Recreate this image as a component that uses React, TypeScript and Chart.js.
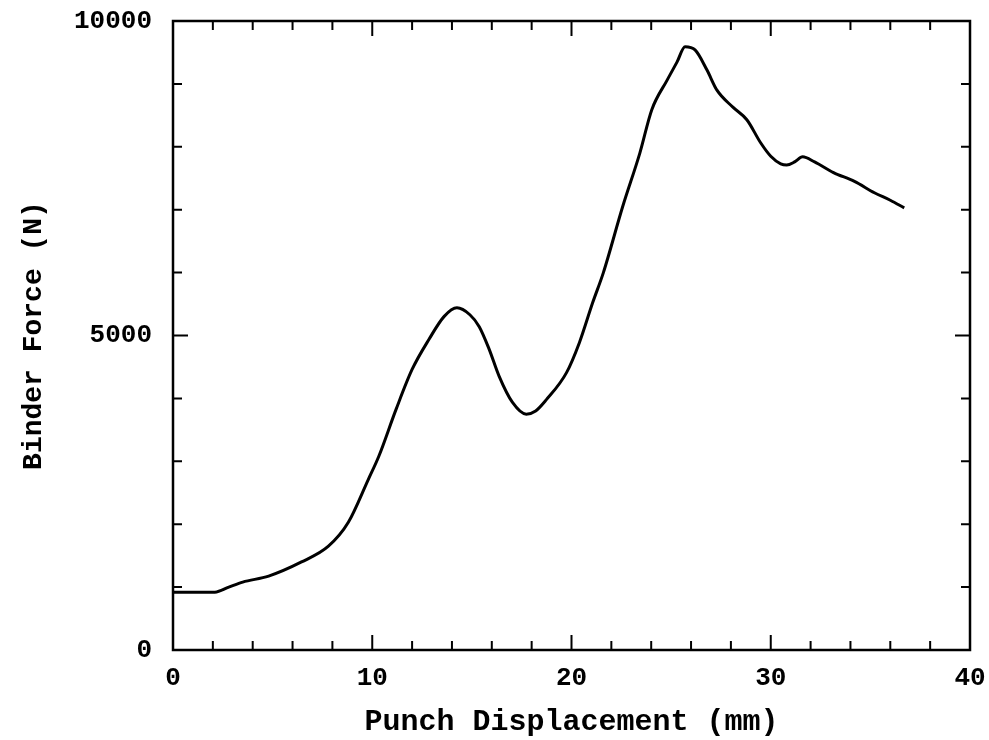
import React, { useEffect, useRef } from "react";
import { Chart, registerables } from "chart.js";

Chart.register(...registerables);

const displacement = [0, 2.1, 2.8, 3.5, 4.8, 6.45, 7.8, 8.8, 9.8, 10.33, 11.2, 12.0, 12.85, 13.6, 14.25, 14.9, 15.37, 15.87, 16.37, 17.03, 17.73, 18.2, 18.74, 19.75, 20.4, 21.06, 21.6, 22.57, 23.43, 24.03, 24.8, 25.3, 25.7, 26.2, 26.8, 27.3, 28.1, 28.8, 29.5, 30.0, 30.5, 30.8, 31.2, 31.6, 32.2, 33.15, 34.2, 35.2, 36.0, 36.7];
const binderForce = [920, 920, 1000, 1080, 1175, 1400, 1650, 2030, 2710, 3080, 3830, 4460, 4940, 5300, 5440, 5330, 5140, 4780, 4350, 3940, 3750, 3800, 3980, 4410, 4890, 5520, 6000, 7050, 7900, 8590, 9060, 9350, 9590, 9540, 9220, 8900, 8630, 8430, 8060, 7850, 7730, 7710, 7760, 7840, 7760, 7590, 7450, 7270, 7150, 7030];

const xTitle = "Punch Displacement (mm)";
const yTitle = "Binder Force (N)";
const xMin = 0, xMax = 40, xMajor = 10, xMinor = 2;
const yMin = 0, yMax = 10000, yMajor = 5000, yMinor = 1000;

const FONT = "'Liberation Mono', 'DejaVu Sans Mono', monospace";

const framePlugin = {
  id: "frameTicks",
  afterDraw(chart: any) {
    const { ctx, chartArea } = chart;
    const xs = chart.scales.x;
    const ys = chart.scales.y;
    const { left, right, top, bottom } = chartArea;
    ctx.save();
    ctx.strokeStyle = "#000";
    ctx.lineWidth = 2.5;
    ctx.strokeRect(left, top, right - left, bottom - top);
    ctx.lineWidth = 2;
    ctx.beginPath();
    for (let v = xMin; v <= xMax + 1e-9; v += xMinor) {
      const px = xs.getPixelForValue(v);
      const len = Math.abs(v % xMajor) < 1e-9 ? 15 : 9;
      ctx.moveTo(px, bottom);
      ctx.lineTo(px, bottom - len);
      ctx.moveTo(px, top);
      ctx.lineTo(px, top + len);
    }
    for (let v = yMin; v <= yMax + 1e-9; v += yMinor) {
      const py = ys.getPixelForValue(v);
      const len = Math.abs(v % yMajor) < 1e-9 ? 15 : 9;
      ctx.moveTo(left, py);
      ctx.lineTo(left + len, py);
      ctx.moveTo(right, py);
      ctx.lineTo(right - len, py);
    }
    ctx.stroke();
    ctx.restore();
  },
};

export default function App() {
  const ref = useRef<HTMLCanvasElement>(null);
  useEffect(() => {
    const canvas = ref.current;
    if (!canvas) return;
    const chart = new Chart(canvas, {
      type: "line",
      data: {
        datasets: [
          {
            data: displacement.map((x, i) => ({ x, y: binderForce[i] })),
            borderColor: "#000",
            borderWidth: 3,
            pointRadius: 0,
            fill: false,
            cubicInterpolationMode: "monotone",
          },
        ],
      },
      options: {
        responsive: false,
        animation: false,
        layout: { padding: { top: 21, right: 19, left: 0, bottom: 0 } },
        plugins: { legend: { display: false }, tooltip: { enabled: false } },
        scales: {
          x: {
            type: "linear",
            min: xMin,
            max: xMax,
            grid: { display: false, drawTicks: false },
            border: { display: false },
            ticks: {
              stepSize: xMajor,
              padding: 13,
              color: "#000",
              maxRotation: 0,
              callback: (v: any) => String(v),
              font: { family: FONT, size: 26, weight: "bold" },
            },
            title: {
              display: true,
              text: xTitle,
              color: "#000",
              padding: { top: 0, bottom: 0 },
              font: { family: FONT, size: 30, weight: "bold" },
            },
            afterFit(scale: any) {
              scale.height = 90;
              scale.paddingLeft = 0;
              scale.paddingRight = 0;
            },
          },
          y: {
            type: "linear",
            min: yMin,
            max: yMax,
            grid: { display: false, drawTicks: false },
            border: { display: false },
            ticks: {
              stepSize: yMajor,
              padding: 21,
              color: "#000",
              callback: (v: any) => String(v),
              font: { family: FONT, size: 26, weight: "bold" },
            },
            title: {
              display: true,
              text: yTitle,
              color: "#000",
              padding: { top: 17, bottom: 0 },
              font: { family: FONT, size: 28, weight: "bold" },
            },
            afterFit(scale: any) {
              scale.width = 173;
              scale.paddingTop = 0;
              scale.paddingBottom = 0;
            },
          },
        },
      },
      plugins: [framePlugin],
    });
    return () => chart.destroy();
  }, []);
  return (
    <div style={{ position: "absolute", left: 0, top: 0, width: 989, height: 740, background: "#fff" }}>
      <canvas ref={ref} width={989} height={740} style={{ display: "block" }} />
    </div>
  );
}
